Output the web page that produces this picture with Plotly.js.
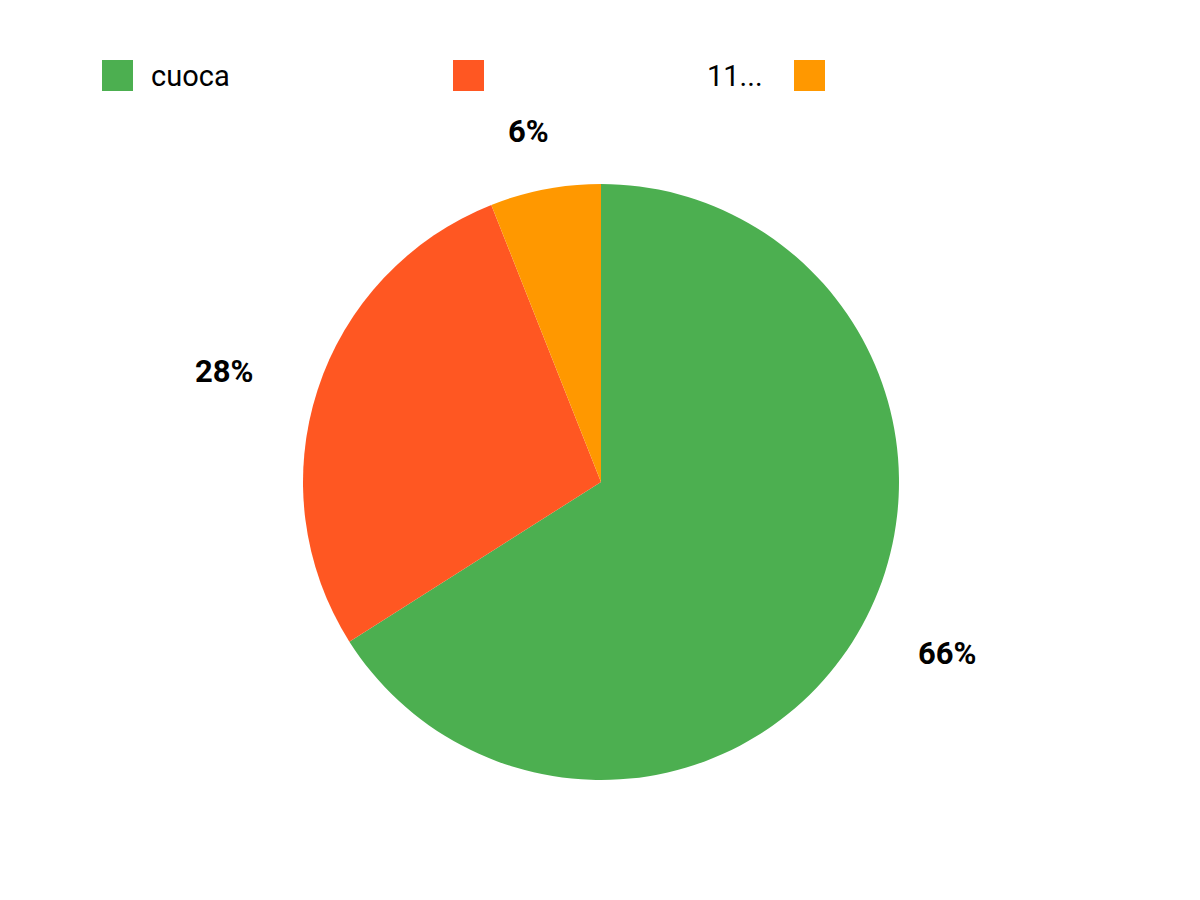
<!DOCTYPE html>
<html>
<head>
<meta charset="utf-8">
<script src="https://cdn.plot.ly/plotly-3.0.1.min.js"></script>
<style>html,body{margin:0;padding:0;background:#fff;}#chart{width:1200px;height:900px;}</style>
</head>
<body>
<div id="chart"></div>
<script>
// Data
var labels = ["cuoca", "11...", "altro"];
var values = [33, 14, 3];
var colors = ["#4CAF50", "#FF5722", "#FF9800"];
var legendTexts = ["cuoca", "11...", ""];

var W = 1200, H = 900;
var cx = 601, cy = 482, R = 298;

var total = values.reduce(function(a, b) { return a + b; }, 0);

// Pie trace
var trace = {
  type: "pie",
  labels: labels,
  values: values,
  sort: false,
  direction: "clockwise",
  rotation: 0,
  marker: { colors: colors, line: { width: 0 } },
  textinfo: "none",
  hoverinfo: "label+percent",
  showlegend: false,
  domain: {
    x: [(cx - R) / W, (cx + R) / W],
    y: [(H - cy - R) / H, (H - cy + R) / H]
  }
};

// Percentage labels computed from values
var annotations = [];
var cum = 0;
var fontSize = 31;
values.forEach(function(v, i) {
  var frac = v / total;
  var mid = (cum + frac / 2) * 2 * Math.PI;
  cum += frac;
  var s = Math.sin(mid), c = Math.cos(mid);
  var txt = Math.round(frac * 100) + "%";
  var hw = txt.length * 0.55 * fontSize / 2 + 20;
  var hh = 7;
  var dx = 350 * s + s * hw;
  var dy = 350 * c + c * hh;
  annotations.push({
    xref: "paper", yref: "paper",
    x: (cx + dx) / W, y: (H - cy + dy) / H,
    xanchor: "center", yanchor: "middle",
    text: "<b>" + txt + "</b>",
    showarrow: false,
    font: { family: "Roboto, sans-serif", size: fontSize, color: "#000000" }
  });
});

// Custom legend (swatches + labels) built from labels/colors
var shapes = [];
var swatchX = [102, 453, 794];
var swatchTop = 60, swatchSize = 31;
colors.forEach(function(col, i) {
  shapes.push({
    type: "rect", xref: "paper", yref: "paper",
    x0: swatchX[i] / W, x1: (swatchX[i] + swatchSize) / W,
    y0: (H - swatchTop - swatchSize) / H, y1: (H - swatchTop) / H,
    fillcolor: col, line: { width: 0 }
  });
});
legendTexts.forEach(function(t, i) {
  if (!t) return;
  var ann = {
    xref: "paper", yref: "paper",
    y: (H - swatchTop - swatchSize / 2) / H,
    yanchor: "middle",
    text: t, showarrow: false,
    font: { family: "Roboto, sans-serif", size: 29, color: "#000000" }
  };
  if (i === 0) {
    ann.x = (swatchX[i] + swatchSize + 16) / W;
    ann.xanchor = "left";
  } else {
    ann.x = (swatchX[i + 1] - 29) / W;
    ann.xanchor = "right";
  }
  annotations.push(ann);
});

var layout = {
  width: W, height: H,
  margin: { l: 0, r: 0, t: 0, b: 0 },
  paper_bgcolor: "#ffffff",
  plot_bgcolor: "#ffffff",
  showlegend: false,
  annotations: annotations,
  shapes: shapes,
  font: { family: "Roboto, sans-serif" }
};

Plotly.newPlot("chart", [trace], layout, { displayModeBar: false, staticPlot: true });
</script>
</body>
</html>
